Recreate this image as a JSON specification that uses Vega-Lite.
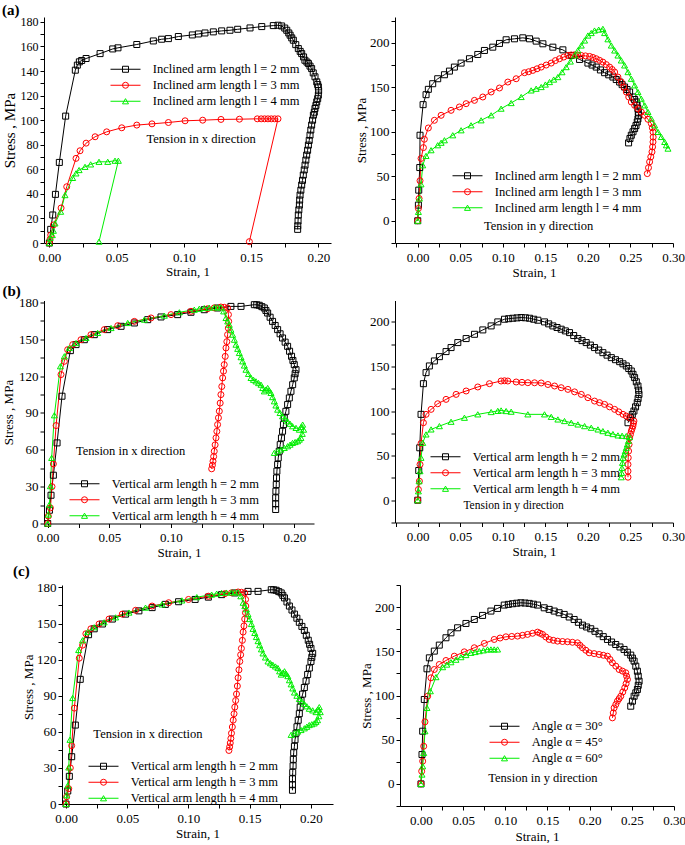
{
"$schema": "https://vega.github.io/schema/vega-lite/v6.json",
"padding": {"left": 2, "top": 2, "right": 0, "bottom": 0},
"config": {
 "font": "Liberation Serif",
 "view": {"stroke": null},
 "axis": {"grid": false, "domainColor": "#000", "tickColor": "#000", "labelColor": "#000", "titleColor": "#000", "labelFont": "Liberation Serif", "titleFont": "Liberation Serif", "titleFontWeight": "normal", "labelFontSize": 13, "titleFontSize": 13, "tickSize": 4, "labelFlush": false, "labelOverlap": false, "labelPadding": 2, "titlePadding": 2},
 "legend": {"labelFont": "Liberation Serif", "labelFontSize": 12.5, "labelColor": "#000", "labelLimit": 0, "symbolStrokeWidth": 1, "symbolFillColor": "transparent", "rowPadding": 3, "padding": 0, "clipHeight": 12.5},
 "title": {"font": "Liberation Serif", "fontSize": 15, "fontWeight": "bold", "color": "#000", "anchor": "start", "offset": -3}
},
"datasets": {
 "A1": [
  {"s":"a","x":0,"y":0},{"s":"a","x":0.001,"y":11.1},{"s":"a","x":0.0025,"y":22.8},{"s":"a","x":0.0045,"y":39.6},{"s":"a","x":0.0074,"y":65.6},{"s":"a","x":0.0121,"y":103.3},{"s":"a","x":0.0193,"y":140.7},{"s":"a","x":0.0208,"y":144.8},{"s":"a","x":0.0223,"y":147.5},{"s":"a","x":0.024,"y":148.6},{"s":"a","x":0.0273,"y":150.2},{"s":"a","x":0.0377,"y":154.2},{"s":"a","x":0.0471,"y":158},{"s":"a","x":0.051,"y":158.9},{"s":"a","x":0.065,"y":161.6},{"s":"a","x":0.0773,"y":164.5},{"s":"a","x":0.0835,"y":165.9},{"s":"a","x":0.0885,"y":166.4},{"s":"a","x":0.0959,"y":168.1},{"s":"a","x":0.1063,"y":169.4},{"s":"a","x":0.1108,"y":170.2},{"s":"a","x":0.1157,"y":171},{"s":"a","x":0.1219,"y":171.9},{"s":"a","x":0.1281,"y":172.7},{"s":"a","x":0.1343,"y":173.2},{"s":"a","x":0.14,"y":174},{"s":"a","x":0.1492,"y":175.1},{"s":"a","x":0.1579,"y":176.2},{"s":"a","x":0.1665,"y":177},{"s":"a","x":0.17,"y":177.3},{"s":"a","x":0.1727,"y":176.7},{"s":"a","x":0.175,"y":175},{"s":"a","x":0.1765,"y":173.2},{"s":"a","x":0.178,"y":171},{"s":"a","x":0.179,"y":169.2},{"s":"a","x":0.1802,"y":167},{"s":"a","x":0.1814,"y":165.1},{"s":"a","x":0.1832,"y":161.5},{"s":"a","x":0.1851,"y":158.3},{"s":"a","x":0.1865,"y":156},{"s":"a","x":0.1876,"y":154.2},{"s":"a","x":0.189,"y":151.5},{"s":"a","x":0.19,"y":148.8},{"s":"a","x":0.1915,"y":147.3},{"s":"a","x":0.1926,"y":146.1},{"s":"a","x":0.1938,"y":144},{"s":"a","x":0.195,"y":142},{"s":"a","x":0.1962,"y":138.5},{"s":"a","x":0.1975,"y":135.3},{"s":"a","x":0.1988,"y":131.2},{"s":"a","x":0.1995,"y":129},{"s":"a","x":0.2,"y":127.1},{"s":"a","x":0.2002,"y":124},{"s":"a","x":0.2,"y":120.4},{"s":"a","x":0.1995,"y":117.5},{"s":"a","x":0.1988,"y":114.9},{"s":"a","x":0.1982,"y":112},{"s":"a","x":0.1975,"y":109.5},{"s":"a","x":0.197,"y":106.5},{"s":"a","x":0.1963,"y":104.1},{"s":"a","x":0.1957,"y":100},{"s":"a","x":0.195,"y":96},{"s":"a","x":0.1944,"y":92},{"s":"a","x":0.1938,"y":87.8},{"s":"a","x":0.1932,"y":83.5},{"s":"a","x":0.1926,"y":79.7},{"s":"a","x":0.192,"y":75.5},{"s":"a","x":0.1913,"y":71.6},{"s":"a","x":0.1907,"y":67.5},{"s":"a","x":0.1901,"y":63.4},{"s":"a","x":0.1895,"y":59.5},{"s":"a","x":0.1888,"y":55.3},{"s":"a","x":0.1882,"y":51},{"s":"a","x":0.1876,"y":47.2},{"s":"a","x":0.187,"y":43},{"s":"a","x":0.1864,"y":39},{"s":"a","x":0.1861,"y":35},{"s":"a","x":0.1859,"y":30.9},{"s":"a","x":0.1855,"y":27},{"s":"a","x":0.1851,"y":22.8},{"s":"a","x":0.1849,"y":18},{"s":"a","x":0.1847,"y":14},{"s":"a","x":0.1846,"y":11.1},
  {"s":"b","x":0,"y":0},{"s":"b","x":0.0005,"y":3},{"s":"b","x":0.001,"y":6.5},{"s":"b","x":0.003,"y":14.7},{"s":"b","x":0.0087,"y":28.5},{"s":"b","x":0.0129,"y":45.8},{"s":"b","x":0.0198,"y":68.9},{"s":"b","x":0.0228,"y":75.1},{"s":"b","x":0.0273,"y":81.3},{"s":"b","x":0.034,"y":86.5},{"s":"b","x":0.0426,"y":90.5},{"s":"b","x":0.0538,"y":93.8},{"s":"b","x":0.065,"y":96},{"s":"b","x":0.0763,"y":97},{"s":"b","x":0.0885,"y":98.1},{"s":"b","x":0.1009,"y":99.5},{"s":"b","x":0.114,"y":100},{"s":"b","x":0.1276,"y":100.6},{"s":"b","x":0.1413,"y":100.8},{"s":"b","x":0.1546,"y":101.1},{"s":"b","x":0.1575,"y":101.1},{"s":"b","x":0.16,"y":101.1},{"s":"b","x":0.1625,"y":101.1},{"s":"b","x":0.165,"y":101.1},{"s":"b","x":0.1675,"y":101.1},{"s":"b","x":0.17,"y":101.1},{"s":"b","x":0.1487,"y":1.1},
  {"s":"c","x":0,"y":0},{"s":"c","x":0.0005,"y":4},{"s":"c","x":0.0022,"y":6.5},{"s":"c","x":0.003,"y":10},{"s":"c","x":0.0042,"y":16},{"s":"c","x":0.0084,"y":25.5},{"s":"c","x":0.0116,"y":39},{"s":"c","x":0.0173,"y":53},{"s":"c","x":0.0198,"y":56.7},{"s":"c","x":0.0221,"y":59.4},{"s":"c","x":0.0265,"y":62},{"s":"c","x":0.0307,"y":64},{"s":"c","x":0.0369,"y":66.1},{"s":"c","x":0.0434,"y":66.1},{"s":"c","x":0.0488,"y":67},{"s":"c","x":0.0513,"y":67},{"s":"c","x":0.0369,"y":1.1}
 ],
 "A2": [
  {"s":"a","x":0,"y":0},{"s":"a","x":0.0008,"y":17.6},{"s":"a","x":0.0012,"y":34.4},{"s":"a","x":0.0024,"y":59.8},{"s":"a","x":0.0027,"y":96.1},{"s":"a","x":0.0063,"y":130.5},{"s":"a","x":0.0098,"y":141.7},{"s":"a","x":0.0125,"y":147.7},{"s":"a","x":0.0176,"y":154},{"s":"a","x":0.0235,"y":159.6},{"s":"a","x":0.0314,"y":164.1},{"s":"a","x":0.0373,"y":168.2},{"s":"a","x":0.0431,"y":172.7},{"s":"a","x":0.051,"y":177.2},{"s":"a","x":0.0608,"y":182.1},{"s":"a","x":0.0706,"y":186.9},{"s":"a","x":0.0784,"y":191.4},{"s":"a","x":0.0882,"y":195.1},{"s":"a","x":0.0961,"y":199.3},{"s":"a","x":0.1039,"y":203.4},{"s":"a","x":0.1137,"y":204.5},{"s":"a","x":0.1235,"y":205.6},{"s":"a","x":0.1314,"y":204.5},{"s":"a","x":0.1392,"y":201.9},{"s":"a","x":0.1471,"y":198.9},{"s":"a","x":0.1588,"y":195.1},{"s":"a","x":0.1706,"y":192.1},{"s":"a","x":0.1804,"y":185.8},{"s":"a","x":0.1902,"y":181.3},{"s":"a","x":0.2,"y":177.2},{"s":"a","x":0.2049,"y":175},{"s":"a","x":0.2098,"y":172.7},{"s":"a","x":0.2147,"y":169.5},{"s":"a","x":0.2196,"y":166.4},{"s":"a","x":0.2245,"y":164},{"s":"a","x":0.2294,"y":161.5},{"s":"a","x":0.2333,"y":158.7},{"s":"a","x":0.2373,"y":155.9},{"s":"a","x":0.2402,"y":153},{"s":"a","x":0.2431,"y":150.3},{"s":"a","x":0.246,"y":147.5},{"s":"a","x":0.249,"y":144.7},{"s":"a","x":0.2529,"y":139.1},{"s":"a","x":0.2549,"y":136.3},{"s":"a","x":0.2569,"y":133.5},{"s":"a","x":0.2578,"y":130},{"s":"a","x":0.2588,"y":126},{"s":"a","x":0.2592,"y":122},{"s":"a","x":0.2596,"y":118.5},{"s":"a","x":0.2588,"y":114.5},{"s":"a","x":0.258,"y":111},{"s":"a","x":0.2565,"y":107},{"s":"a","x":0.2549,"y":103.6},{"s":"a","x":0.253,"y":100},{"s":"a","x":0.251,"y":96.1},{"s":"a","x":0.2494,"y":92.4},{"s":"a","x":0.2478,"y":87.5},
  {"s":"b","x":0,"y":0},{"s":"b","x":0.0008,"y":13.8},{"s":"b","x":0.0016,"y":25},{"s":"b","x":0.0027,"y":45},{"s":"b","x":0.0039,"y":70},{"s":"b","x":0.0067,"y":82.2},{"s":"b","x":0.0078,"y":91.6},{"s":"b","x":0.0125,"y":104.3},{"s":"b","x":0.0196,"y":112.9},{"s":"b","x":0.0275,"y":118.5},{"s":"b","x":0.0392,"y":124.1},{"s":"b","x":0.049,"y":127.9},{"s":"b","x":0.0569,"y":131.6},{"s":"b","x":0.0667,"y":135.3},{"s":"b","x":0.0765,"y":139.1},{"s":"b","x":0.0863,"y":144.7},{"s":"b","x":0.0961,"y":149.2},{"s":"b","x":0.1059,"y":155.9},{"s":"b","x":0.1157,"y":159.6},{"s":"b","x":0.1255,"y":166.4},{"s":"b","x":0.1304,"y":167.5},{"s":"b","x":0.1353,"y":169},{"s":"b","x":0.1402,"y":170.8},{"s":"b","x":0.1451,"y":172.7},{"s":"b","x":0.151,"y":175},{"s":"b","x":0.1569,"y":177.2},{"s":"b","x":0.1618,"y":180},{"s":"b","x":0.1667,"y":182.1},{"s":"b","x":0.1716,"y":184},{"s":"b","x":0.1765,"y":185.8},{"s":"b","x":0.1804,"y":186.3},{"s":"b","x":0.1843,"y":186.5},{"s":"b","x":0.1882,"y":186.2},{"s":"b","x":0.1922,"y":185.8},{"s":"b","x":0.1971,"y":185.3},{"s":"b","x":0.202,"y":184.7},{"s":"b","x":0.2059,"y":183.5},{"s":"b","x":0.2098,"y":182.1},{"s":"b","x":0.2137,"y":180.3},{"s":"b","x":0.2176,"y":178.3},{"s":"b","x":0.2216,"y":175.5},{"s":"b","x":0.2255,"y":172.7},{"s":"b","x":0.2285,"y":170},{"s":"b","x":0.2314,"y":167.1},{"s":"b","x":0.2353,"y":161.5},{"s":"b","x":0.2392,"y":155.9},{"s":"b","x":0.2422,"y":150.3},{"s":"b","x":0.2451,"y":144.7},{"s":"b","x":0.248,"y":139.1},{"s":"b","x":0.251,"y":133.5},{"s":"b","x":0.2549,"y":129.7},{"s":"b","x":0.2588,"y":126},{"s":"b","x":0.2627,"y":122.2},{"s":"b","x":0.2667,"y":118.5},{"s":"b","x":0.2706,"y":114},{"s":"b","x":0.2745,"y":109.2},{"s":"b","x":0.2757,"y":104.5},{"s":"b","x":0.2765,"y":99.8},{"s":"b","x":0.2767,"y":94},{"s":"b","x":0.2765,"y":88.6},{"s":"b","x":0.276,"y":83},{"s":"b","x":0.2753,"y":77.4},{"s":"b","x":0.2739,"y":71.8},{"s":"b","x":0.2725,"y":66.2},{"s":"b","x":0.2712,"y":59.6},{"s":"b","x":0.2698,"y":53},
  {"s":"c","x":0,"y":0},{"s":"c","x":0.0008,"y":10},{"s":"c","x":0.002,"y":25},{"s":"c","x":0.0039,"y":41},{"s":"c","x":0.0059,"y":62.4},{"s":"c","x":0.0098,"y":72.9},{"s":"c","x":0.0157,"y":79.3},{"s":"c","x":0.0235,"y":84.9},{"s":"c","x":0.0275,"y":87.7},{"s":"c","x":0.0314,"y":90.5},{"s":"c","x":0.0412,"y":96.1},{"s":"c","x":0.051,"y":101.7},{"s":"c","x":0.0627,"y":107.3},{"s":"c","x":0.0745,"y":112.9},{"s":"c","x":0.0863,"y":118.5},{"s":"c","x":0.098,"y":126},{"s":"c","x":0.1098,"y":132.3},{"s":"c","x":0.1216,"y":139.1},{"s":"c","x":0.1333,"y":146.5},{"s":"c","x":0.1392,"y":148.4},{"s":"c","x":0.1451,"y":150.3},{"s":"c","x":0.15,"y":153.1},{"s":"c","x":0.1549,"y":155.9},{"s":"c","x":0.1598,"y":158.7},{"s":"c","x":0.1647,"y":161.5},{"s":"c","x":0.1696,"y":167},{"s":"c","x":0.1745,"y":172.7},{"s":"c","x":0.1794,"y":179},{"s":"c","x":0.1843,"y":185.8},{"s":"c","x":0.1882,"y":191.5},{"s":"c","x":0.1922,"y":197},{"s":"c","x":0.1961,"y":202.6},{"s":"c","x":0.2,"y":208.2},{"s":"c","x":0.2039,"y":211},{"s":"c","x":0.2078,"y":213.8},{"s":"c","x":0.2127,"y":214.8},{"s":"c","x":0.2176,"y":215.7},{"s":"c","x":0.2196,"y":211},{"s":"c","x":0.2235,"y":204},{"s":"c","x":0.2275,"y":197},{"s":"c","x":0.2314,"y":191.4},{"s":"c","x":0.2353,"y":185.8},{"s":"c","x":0.2392,"y":180.2},{"s":"c","x":0.2431,"y":174.6},{"s":"c","x":0.2471,"y":167.1},{"s":"c","x":0.251,"y":159.6},{"s":"c","x":0.2549,"y":152.2},{"s":"c","x":0.2588,"y":144.7},{"s":"c","x":0.2627,"y":137.2},{"s":"c","x":0.2667,"y":129.7},{"s":"c","x":0.2706,"y":122.3},{"s":"c","x":0.2745,"y":114.8},{"s":"c","x":0.2784,"y":107.3},{"s":"c","x":0.2824,"y":99.8},{"s":"c","x":0.2863,"y":94.2},{"s":"c","x":0.2902,"y":88.6},{"s":"c","x":0.2922,"y":84.9},{"s":"c","x":0.2941,"y":81.1}
 ],
 "B1": [
  {"s":"a","x":0,"y":0},{"s":"a","x":0.0014,"y":10.8},{"s":"a","x":0.0027,"y":23},{"s":"a","x":0.0046,"y":39.3},{"s":"a","x":0.0076,"y":65.6},{"s":"a","x":0.0116,"y":103.6},{"s":"a","x":0.0184,"y":140.7},{"s":"a","x":0.023,"y":145.6},{"s":"a","x":0.0297,"y":149.6},{"s":"a","x":0.0378,"y":153.7},{"s":"a","x":0.0486,"y":157.8},{"s":"a","x":0.0595,"y":160.5},{"s":"a","x":0.0703,"y":163.2},{"s":"a","x":0.0811,"y":165.9},{"s":"a","x":0.0919,"y":168.1},{"s":"a","x":0.1054,"y":170},{"s":"a","x":0.1162,"y":171.9},{"s":"a","x":0.127,"y":174},{"s":"a","x":0.1378,"y":175.4},{"s":"a","x":0.1486,"y":176.7},{"s":"a","x":0.1568,"y":176.7},{"s":"a","x":0.1676,"y":178.1},{"s":"a","x":0.1696,"y":178},{"s":"a","x":0.1716,"y":177.6},{"s":"a","x":0.1737,"y":176.5},{"s":"a","x":0.1757,"y":175.4},{"s":"a","x":0.177,"y":173.4},{"s":"a","x":0.1784,"y":171.3},{"s":"a","x":0.1804,"y":167.9},{"s":"a","x":0.1824,"y":164.5},{"s":"a","x":0.1845,"y":161.2},{"s":"a","x":0.1865,"y":157.8},{"s":"a","x":0.1885,"y":154.4},{"s":"a","x":0.1905,"y":151},{"s":"a","x":0.1926,"y":147.6},{"s":"a","x":0.1946,"y":144.2},{"s":"a","x":0.1962,"y":140.2},{"s":"a","x":0.1978,"y":136.1},{"s":"a","x":0.1989,"y":132.7},{"s":"a","x":0.2,"y":129.3},{"s":"a","x":0.2014,"y":125.2},{"s":"a","x":0.2007,"y":121.9},{"s":"a","x":0.2,"y":118.5},{"s":"a","x":0.1987,"y":113},{"s":"a","x":0.1973,"y":107.6},{"s":"a","x":0.196,"y":102.2},{"s":"a","x":0.1946,"y":96.8},{"s":"a","x":0.1932,"y":91.3},{"s":"a","x":0.1919,"y":85.9},{"s":"a","x":0.1912,"y":80.5},{"s":"a","x":0.1905,"y":75.1},{"s":"a","x":0.1896,"y":69.6},{"s":"a","x":0.1886,"y":64.2},{"s":"a","x":0.1878,"y":58.8},{"s":"a","x":0.187,"y":53.4},{"s":"a","x":0.1865,"y":48},{"s":"a","x":0.1859,"y":42.6},{"s":"a","x":0.1856,"y":37.1},{"s":"a","x":0.1854,"y":31.7},{"s":"a","x":0.1851,"y":26.3},{"s":"a","x":0.1849,"y":20.9},{"s":"a","x":0.1849,"y":16},{"s":"a","x":0.1849,"y":11.4},
  {"s":"b","x":0,"y":0},{"s":"b","x":0.0005,"y":6},{"s":"b","x":0.0022,"y":12.7},{"s":"b","x":0.0035,"y":30},{"s":"b","x":0.0046,"y":48.5},{"s":"b","x":0.0068,"y":79.7},{"s":"b","x":0.0108,"y":121.2},{"s":"b","x":0.0135,"y":132},{"s":"b","x":0.0162,"y":141.5},{"s":"b","x":0.0203,"y":145.6},{"s":"b","x":0.027,"y":149.6},{"s":"b","x":0.0351,"y":153.7},{"s":"b","x":0.0459,"y":157.8},{"s":"b","x":0.0568,"y":161},{"s":"b","x":0.0703,"y":164.5},{"s":"b","x":0.0838,"y":167.3},{"s":"b","x":0.1,"y":170},{"s":"b","x":0.1162,"y":172.7},{"s":"b","x":0.1297,"y":174.8},{"s":"b","x":0.1351,"y":175.5},{"s":"b","x":0.1405,"y":176.2},{"s":"b","x":0.1432,"y":176},{"s":"b","x":0.1459,"y":175.4},{"s":"b","x":0.1466,"y":170},{"s":"b","x":0.1468,"y":164.5},{"s":"b","x":0.1465,"y":159},{"s":"b","x":0.1459,"y":153.7},{"s":"b","x":0.1453,"y":148},{"s":"b","x":0.1446,"y":142.9},{"s":"b","x":0.144,"y":136},{"s":"b","x":0.1432,"y":129.3},{"s":"b","x":0.1426,"y":124},{"s":"b","x":0.1419,"y":118.5},{"s":"b","x":0.1412,"y":111.5},{"s":"b","x":0.1405,"y":104.9},{"s":"b","x":0.1399,"y":98},{"s":"b","x":0.1392,"y":91.4},{"s":"b","x":0.1385,"y":86},{"s":"b","x":0.1378,"y":80.5},{"s":"b","x":0.1372,"y":75},{"s":"b","x":0.1365,"y":69.7},{"s":"b","x":0.1358,"y":64},{"s":"b","x":0.1351,"y":58.8},{"s":"b","x":0.1346,"y":54.5},{"s":"b","x":0.1341,"y":50.7},{"s":"b","x":0.1336,"y":47.5},{"s":"b","x":0.133,"y":44.5},
  {"s":"c","x":0,"y":0},{"s":"c","x":0.0005,"y":7.3},{"s":"c","x":0.0014,"y":15.4},{"s":"c","x":0.0022,"y":30.4},{"s":"c","x":0.0032,"y":53.4},{"s":"c","x":0.0054,"y":88.1},{"s":"c","x":0.0103,"y":128},{"s":"c","x":0.0135,"y":136.1},{"s":"c","x":0.0176,"y":142.9},{"s":"c","x":0.023,"y":146.9},{"s":"c","x":0.0311,"y":151},{"s":"c","x":0.0405,"y":155.1},{"s":"c","x":0.0514,"y":159.1},{"s":"c","x":0.0649,"y":163.2},{"s":"c","x":0.0784,"y":165.9},{"s":"c","x":0.0946,"y":169.2},{"s":"c","x":0.1068,"y":171.9},{"s":"c","x":0.1189,"y":174},{"s":"c","x":0.123,"y":174.8},{"s":"c","x":0.127,"y":175.4},{"s":"c","x":0.131,"y":175.7},{"s":"c","x":0.1351,"y":175.9},{"s":"c","x":0.1378,"y":175.9},{"s":"c","x":0.1405,"y":175.9},{"s":"c","x":0.1427,"y":172.7},{"s":"c","x":0.1446,"y":167.3},{"s":"c","x":0.146,"y":164.5},{"s":"c","x":0.1473,"y":161.8},{"s":"c","x":0.1486,"y":157.8},{"s":"c","x":0.15,"y":153.7},{"s":"c","x":0.1514,"y":149.6},{"s":"c","x":0.1527,"y":145.6},{"s":"c","x":0.1541,"y":142.2},{"s":"c","x":0.1554,"y":138.8},{"s":"c","x":0.1568,"y":135.4},{"s":"c","x":0.1581,"y":132},{"s":"c","x":0.1595,"y":128.6},{"s":"c","x":0.1608,"y":125.2},{"s":"c","x":0.1628,"y":121.8},{"s":"c","x":0.1649,"y":118.5},{"s":"c","x":0.1669,"y":117},{"s":"c","x":0.1689,"y":115.7},{"s":"c","x":0.171,"y":114.3},{"s":"c","x":0.173,"y":113},{"s":"c","x":0.1744,"y":110.3},{"s":"c","x":0.1757,"y":107.6},{"s":"c","x":0.177,"y":109},{"s":"c","x":0.1784,"y":110.3},{"s":"c","x":0.1797,"y":108.3},{"s":"c","x":0.1811,"y":106.3},{"s":"c","x":0.1824,"y":102.9},{"s":"c","x":0.1838,"y":99.5},{"s":"c","x":0.1851,"y":96.1},{"s":"c","x":0.1865,"y":92.7},{"s":"c","x":0.1885,"y":90},{"s":"c","x":0.1905,"y":87.3},{"s":"c","x":0.1926,"y":85.2},{"s":"c","x":0.1946,"y":83.2},{"s":"c","x":0.1966,"y":81.2},{"s":"c","x":0.1986,"y":79.2},{"s":"c","x":0.2014,"y":77.8},{"s":"c","x":0.2041,"y":76.4},{"s":"c","x":0.2055,"y":78.5},{"s":"c","x":0.2068,"y":80.5},{"s":"c","x":0.2076,"y":76.4},{"s":"c","x":0.2065,"y":73},{"s":"c","x":0.2054,"y":69.7},{"s":"c","x":0.2041,"y":68.3},{"s":"c","x":0.2027,"y":67},{"s":"c","x":0.2007,"y":66.3},{"s":"c","x":0.1986,"y":65.6},{"s":"c","x":0.1966,"y":64.2},{"s":"c","x":0.1946,"y":62.9},{"s":"c","x":0.1919,"y":61.5},{"s":"c","x":0.1892,"y":60.2},{"s":"c","x":0.1865,"y":58.8},{"s":"c","x":0.1838,"y":57.5}
 ],
 "B2": [
  {"s":"a","x":0,"y":0},{"s":"a","x":0.0012,"y":33.3},{"s":"a","x":0.0024,"y":58.8},{"s":"a","x":0.0039,"y":96.3},{"s":"a","x":0.0067,"y":130.7},{"s":"a","x":0.0098,"y":143.1},{"s":"a","x":0.0137,"y":150.6},{"s":"a","x":0.0196,"y":156.2},{"s":"a","x":0.0255,"y":161},{"s":"a","x":0.0333,"y":166.7},{"s":"a","x":0.0392,"y":171.2},{"s":"a","x":0.0471,"y":176.8},{"s":"a","x":0.0569,"y":181.3},{"s":"a","x":0.0667,"y":186.1},{"s":"a","x":0.0765,"y":191},{"s":"a","x":0.0863,"y":195.5},{"s":"a","x":0.0941,"y":200},{"s":"a","x":0.102,"y":203},{"s":"a","x":0.1069,"y":203.6},{"s":"a","x":0.1118,"y":204.1},{"s":"a","x":0.1167,"y":204.5},{"s":"a","x":0.1216,"y":204.9},{"s":"a","x":0.1265,"y":204.6},{"s":"a","x":0.1314,"y":204.1},{"s":"a","x":0.1363,"y":203},{"s":"a","x":0.1412,"y":201.9},{"s":"a","x":0.149,"y":200},{"s":"a","x":0.1539,"y":197.8},{"s":"a","x":0.1588,"y":195.5},{"s":"a","x":0.1637,"y":193.7},{"s":"a","x":0.1686,"y":191.8},{"s":"a","x":0.1735,"y":189.9},{"s":"a","x":0.1784,"y":188},{"s":"a","x":0.1833,"y":184.7},{"s":"a","x":0.1882,"y":181.3},{"s":"a","x":0.1931,"y":179},{"s":"a","x":0.198,"y":176.8},{"s":"a","x":0.2029,"y":174},{"s":"a","x":0.2078,"y":171.2},{"s":"a","x":0.2127,"y":168.4},{"s":"a","x":0.2176,"y":165.5},{"s":"a","x":0.2225,"y":162.7},{"s":"a","x":0.2275,"y":159.9},{"s":"a","x":0.2324,"y":157.6},{"s":"a","x":0.2373,"y":155.4},{"s":"a","x":0.2412,"y":153},{"s":"a","x":0.2451,"y":150.6},{"s":"a","x":0.248,"y":147.7},{"s":"a","x":0.251,"y":144.9},{"s":"a","x":0.253,"y":141.2},{"s":"a","x":0.2549,"y":137.5},{"s":"a","x":0.2569,"y":132.8},{"s":"a","x":0.2588,"y":128.1},{"s":"a","x":0.2596,"y":123.4},{"s":"a","x":0.26,"y":118.7},{"s":"a","x":0.259,"y":114},{"s":"a","x":0.258,"y":109.4},{"s":"a","x":0.256,"y":104.7},{"s":"a","x":0.2541,"y":100},{"s":"a","x":0.2522,"y":96.2},{"s":"a","x":0.2502,"y":92.5},{"s":"a","x":0.2471,"y":86.9},
  {"s":"b","x":0,"y":0},{"s":"b","x":0.0008,"y":12},{"s":"b","x":0.002,"y":21.3},{"s":"b","x":0.0027,"y":40.1},{"s":"b","x":0.0039,"y":63.7},{"s":"b","x":0.0067,"y":86.9},{"s":"b","x":0.0098,"y":96.3},{"s":"b","x":0.0157,"y":101.9},{"s":"b","x":0.0235,"y":108.2},{"s":"b","x":0.0333,"y":113.1},{"s":"b","x":0.0451,"y":118.7},{"s":"b","x":0.0569,"y":122.5},{"s":"b","x":0.0706,"y":127},{"s":"b","x":0.0843,"y":130.7},{"s":"b","x":0.098,"y":133.7},{"s":"b","x":0.102,"y":134},{"s":"b","x":0.1059,"y":133.7},{"s":"b","x":0.1157,"y":132.6},{"s":"b","x":0.1225,"y":132.2},{"s":"b","x":0.1294,"y":131.8},{"s":"b","x":0.1373,"y":131.7},{"s":"b","x":0.1451,"y":131.5},{"s":"b","x":0.153,"y":129.8},{"s":"b","x":0.1608,"y":128.1},{"s":"b","x":0.1686,"y":126.2},{"s":"b","x":0.1765,"y":124.3},{"s":"b","x":0.1843,"y":121.5},{"s":"b","x":0.1922,"y":118.7},{"s":"b","x":0.2,"y":115},{"s":"b","x":0.2078,"y":111.2},{"s":"b","x":0.2137,"y":109.4},{"s":"b","x":0.2196,"y":107.5},{"s":"b","x":0.2255,"y":104.7},{"s":"b","x":0.2314,"y":101.9},{"s":"b","x":0.2363,"y":99.1},{"s":"b","x":0.2412,"y":96.3},{"s":"b","x":0.2451,"y":94.4},{"s":"b","x":0.249,"y":92.5},{"s":"b","x":0.2541,"y":88.8},{"s":"b","x":0.2535,"y":86},{"s":"b","x":0.2529,"y":83.1},{"s":"b","x":0.252,"y":80.3},{"s":"b","x":0.251,"y":77.5},{"s":"b","x":0.25,"y":73.8},{"s":"b","x":0.249,"y":70},{"s":"b","x":0.2484,"y":62.5},{"s":"b","x":0.2478,"y":55.1},{"s":"b","x":0.2474,"y":47.6},{"s":"b","x":0.2471,"y":40.1},{"s":"b","x":0.2471,"y":32.6},{"s":"b","x":0.2471,"y":25.8},
  {"s":"c","x":0,"y":0},{"s":"c","x":0.0008,"y":10},{"s":"c","x":0.0016,"y":21.3},{"s":"c","x":0.0027,"y":32.6},{"s":"c","x":0.0039,"y":47.6},{"s":"c","x":0.0059,"y":64.4},{"s":"c","x":0.0098,"y":73.8},{"s":"c","x":0.0157,"y":79.4},{"s":"c","x":0.0255,"y":83.1},{"s":"c","x":0.0392,"y":88},{"s":"c","x":0.0549,"y":92.5},{"s":"c","x":0.0706,"y":96.3},{"s":"c","x":0.0863,"y":98.9},{"s":"c","x":0.0941,"y":100.2},{"s":"c","x":0.098,"y":100.7},{"s":"c","x":0.1039,"y":100},{"s":"c","x":0.1098,"y":99.3},{"s":"c","x":0.1294,"y":96.3},{"s":"c","x":0.149,"y":96.3},{"s":"c","x":0.1569,"y":93.5},{"s":"c","x":0.1647,"y":90.6},{"s":"c","x":0.1725,"y":88.8},{"s":"c","x":0.1804,"y":86.9},{"s":"c","x":0.1882,"y":85},{"s":"c","x":0.1961,"y":83.1},{"s":"c","x":0.2039,"y":81.3},{"s":"c","x":0.2118,"y":79.4},{"s":"c","x":0.2176,"y":77.5},{"s":"c","x":0.2235,"y":75.7},{"s":"c","x":0.2294,"y":74.2},{"s":"c","x":0.2353,"y":72.7},{"s":"c","x":0.2402,"y":72.3},{"s":"c","x":0.2451,"y":71.9},{"s":"c","x":0.249,"y":70.8},{"s":"c","x":0.2476,"y":66.6},{"s":"c","x":0.2463,"y":62.5},{"s":"c","x":0.2451,"y":58.8},{"s":"c","x":0.2439,"y":55.1},{"s":"c","x":0.2425,"y":51.3},{"s":"c","x":0.2412,"y":47.6},{"s":"c","x":0.2406,"y":42},{"s":"c","x":0.24,"y":36.3},{"s":"c","x":0.2396,"y":30.7},{"s":"c","x":0.2392,"y":25.8}
 ],
 "C2": [
  {"s":"a","x":0,"y":0},{"s":"a","x":0.0012,"y":33.2},{"s":"a","x":0.002,"y":59.6},{"s":"a","x":0.0039,"y":95.5},{"s":"a","x":0.0071,"y":130.2},{"s":"a","x":0.0099,"y":142.6},{"s":"a","x":0.0158,"y":150.2},{"s":"a","x":0.0217,"y":157},{"s":"a","x":0.0296,"y":165.3},{"s":"a","x":0.0355,"y":170.9},{"s":"a","x":0.0434,"y":176.6},{"s":"a","x":0.0533,"y":181.5},{"s":"a","x":0.0632,"y":186},{"s":"a","x":0.073,"y":190.6},{"s":"a","x":0.0829,"y":195.5},{"s":"a","x":0.0908,"y":198.5},{"s":"a","x":0.0987,"y":202.3},{"s":"a","x":0.1036,"y":203.1},{"s":"a","x":0.1086,"y":203.8},{"s":"a","x":0.1135,"y":204.4},{"s":"a","x":0.1184,"y":204.9},{"s":"a","x":0.1234,"y":204.6},{"s":"a","x":0.1283,"y":204.2},{"s":"a","x":0.1332,"y":203.3},{"s":"a","x":0.1382,"y":202.3},{"s":"a","x":0.1461,"y":199.2},{"s":"a","x":0.152,"y":197.4},{"s":"a","x":0.1579,"y":195.5},{"s":"a","x":0.1638,"y":193.6},{"s":"a","x":0.1698,"y":191.7},{"s":"a","x":0.1757,"y":188.8},{"s":"a","x":0.1816,"y":186},{"s":"a","x":0.1866,"y":182.8},{"s":"a","x":0.1915,"y":179.6},{"s":"a","x":0.1964,"y":177.5},{"s":"a","x":0.2013,"y":175.5},{"s":"a","x":0.2063,"y":172.6},{"s":"a","x":0.2112,"y":169.8},{"s":"a","x":0.2161,"y":166.6},{"s":"a","x":0.2211,"y":163.4},{"s":"a","x":0.226,"y":160.5},{"s":"a","x":0.2309,"y":157.7},{"s":"a","x":0.2359,"y":154.9},{"s":"a","x":0.2408,"y":152.1},{"s":"a","x":0.2447,"y":148.9},{"s":"a","x":0.2487,"y":145.7},{"s":"a","x":0.2507,"y":142.3},{"s":"a","x":0.2527,"y":138.9},{"s":"a","x":0.2547,"y":133.2},{"s":"a","x":0.2566,"y":127.5},{"s":"a","x":0.2576,"y":121.9},{"s":"a","x":0.2586,"y":116.2},{"s":"a","x":0.2576,"y":111.5},{"s":"a","x":0.2566,"y":106.8},{"s":"a","x":0.2547,"y":103},{"s":"a","x":0.2527,"y":99.2},{"s":"a","x":0.2507,"y":93.6},{"s":"a","x":0.2487,"y":87.9},
  {"s":"b","x":0,"y":0},{"s":"b","x":0.0008,"y":14.3},{"s":"b","x":0.002,"y":25.7},{"s":"b","x":0.0032,"y":42.6},{"s":"b","x":0.0047,"y":70.2},{"s":"b","x":0.0079,"y":99.2},{"s":"b","x":0.0118,"y":120},{"s":"b","x":0.0158,"y":129.4},{"s":"b","x":0.0217,"y":135.1},{"s":"b","x":0.0296,"y":139.6},{"s":"b","x":0.0395,"y":144.5},{"s":"b","x":0.0513,"y":149.4},{"s":"b","x":0.0632,"y":154},{"s":"b","x":0.0751,"y":158.9},{"s":"b","x":0.0868,"y":163.4},{"s":"b","x":0.0938,"y":165},{"s":"b","x":0.1007,"y":166.4},{"s":"b","x":0.1076,"y":166.8},{"s":"b","x":0.1145,"y":167.2},{"s":"b","x":0.1204,"y":168.1},{"s":"b","x":0.1263,"y":169.1},{"s":"b","x":0.1323,"y":170.4},{"s":"b","x":0.1382,"y":171.7},{"s":"b","x":0.1411,"y":170.4},{"s":"b","x":0.1441,"y":169.1},{"s":"b","x":0.148,"y":166.2},{"s":"b","x":0.152,"y":163.4},{"s":"b","x":0.1569,"y":162.4},{"s":"b","x":0.1619,"y":161.5},{"s":"b","x":0.1678,"y":161.1},{"s":"b","x":0.1737,"y":160.8},{"s":"b","x":0.1796,"y":160.2},{"s":"b","x":0.1855,"y":159.6},{"s":"b","x":0.1885,"y":156.8},{"s":"b","x":0.1915,"y":154},{"s":"b","x":0.1954,"y":151.2},{"s":"b","x":0.1994,"y":148.3},{"s":"b","x":0.2053,"y":147.4},{"s":"b","x":0.2112,"y":146.4},{"s":"b","x":0.2162,"y":145.5},{"s":"b","x":0.2211,"y":144.5},{"s":"b","x":0.2241,"y":140.8},{"s":"b","x":0.227,"y":137},{"s":"b","x":0.231,"y":133.2},{"s":"b","x":0.2349,"y":129.4},{"s":"b","x":0.2389,"y":127.6},{"s":"b","x":0.2428,"y":125.7},{"s":"b","x":0.2438,"y":121.9},{"s":"b","x":0.2448,"y":118.1},{"s":"b","x":0.2432,"y":113.4},{"s":"b","x":0.2416,"y":108.7},{"s":"b","x":0.2393,"y":104},{"s":"b","x":0.2369,"y":99.2},{"s":"b","x":0.2349,"y":96.4},{"s":"b","x":0.2329,"y":93.6},{"s":"b","x":0.231,"y":89.8},{"s":"b","x":0.229,"y":86},{"s":"b","x":0.228,"y":80.3},{"s":"b","x":0.227,"y":74.7},
  {"s":"c","x":0,"y":0},{"s":"c","x":0.0012,"y":10.6},{"s":"c","x":0.002,"y":20},{"s":"c","x":0.0032,"y":35.1},{"s":"c","x":0.0047,"y":59.6},{"s":"c","x":0.0071,"y":86},{"s":"c","x":0.0111,"y":104.9},{"s":"c","x":0.0178,"y":120.8},{"s":"c","x":0.0257,"y":132.1},{"s":"c","x":0.0306,"y":135},{"s":"c","x":0.0355,"y":137.7},{"s":"c","x":0.0415,"y":140.5},{"s":"c","x":0.0474,"y":143.4},{"s":"c","x":0.0533,"y":145.8},{"s":"c","x":0.0592,"y":148.3},{"s":"c","x":0.0642,"y":149.2},{"s":"c","x":0.0691,"y":150.2},{"s":"c","x":0.074,"y":151.1},{"s":"c","x":0.0789,"y":152.1},{"s":"c","x":0.0829,"y":152.1},{"s":"c","x":0.0868,"y":152.1},{"s":"c","x":0.0908,"y":152.1}
 ]
},
"columns": 1,
"spacing": 4.5,
"resolve": {"scale": {"color": "independent", "shape": "independent", "stroke": "independent"}, "legend": {"color": "independent", "shape": "independent", "stroke": "independent"}},
"concat": [
 {
  "title": {"text": "(a)"},
  "spacing": 24,
  "resolve": {"scale": {"color": "independent", "shape": "independent", "stroke": "independent"}, "legend": {"color": "independent", "shape": "independent", "stroke": "independent"}},
  "hconcat": [
   {
    "width": 287, "height": 226,
    "data": {"name": "A1"},
    "layer": [
     {"mark": {"type": "line", "strokeWidth": 1},
      "encoding": {
       "x": {"field": "x", "type": "quantitative", "scale": {"domain": [-0.004, 0.2094], "nice": false, "zero": false}, "axis": {"title": "Strain, 1", "values": [0, 0.025, 0.05, 0.075, 0.1, 0.125, 0.15, 0.175, 0.2], "labelExpr": "round(datum.value*1000)%50==0 ? format(datum.value,'.2f') : ''", "labelFontSize": 13, "labelPadding": 4, "titlePadding": 1}},
       "y": {"field": "y", "type": "quantitative", "scale": {"domain": [0, 184], "nice": false, "zero": false}, "axis": {"title": "Stress , MPa", "values": [0,10,20,30,40,50,60,70,80,90,100,110,120,130,140,150,160,170,180], "labelExpr": "datum.value%20==0 ? format(datum.value,'d') : ''", "labelFontSize": 12, "titleFontSize": 15, "titlePadding": 3}},
       "order": {"value": null},
       "stroke": {"field": "s", "type": "nominal", "scale": {"domain": ["a", "b", "c", "z"], "range": ["#000000", "#ff0000", "#00ee00", "transparent"]}, "legend": {"title": null, "orient": "none", "legendX": 66, "legendY": 46, "symbolType": "stroke", "symbolSize": 900, "labelExpr": "''"}}}},
     {"mark": {"type": "point", "filled": false, "size": 36, "strokeWidth": 1, "opacity": 1},
      "encoding": {
       "x": {"field": "x", "type": "quantitative", "axis": {"title": "Strain, 1", "values": [0, 0.025, 0.05, 0.075, 0.1, 0.125, 0.15, 0.175, 0.2], "labelExpr": "round(datum.value*1000)%50==0 ? format(datum.value,'.2f') : ''", "labelFontSize": 13, "labelPadding": 4, "titlePadding": 1}},
       "y": {"field": "y", "type": "quantitative", "axis": {"title": "Stress , MPa", "values": [0,10,20,30,40,50,60,70,80,90,100,110,120,130,140,150,160,170,180], "labelExpr": "datum.value%20==0 ? format(datum.value,'d') : ''", "labelFontSize": 12, "titleFontSize": 15, "titlePadding": 3}},
       "color": {"field": "s", "type": "nominal", "scale": {"domain": ["a", "b", "c"], "range": ["#000000", "#ff0000", "#00ee00"]}, "legend": {"title": null, "orient": "none", "legendX": 66, "legendY": 46, "symbolSize": 36, "symbolOffset": 9.25, "labelOffset": 21, "labelExpr": "datum.label == 'a' ? 'Inclined arm length l = 2 mm' : datum.label == 'b' ? 'Inclined arm length l = 3 mm' : 'Inclined arm length l = 4 mm'"}},
       "shape": {"field": "s", "type": "nominal", "scale": {"domain": ["a", "b", "c"], "range": ["square", "circle", "triangle-up"]}, "legend": {"title": null, "orient": "none", "legendX": 66, "legendY": 46, "symbolSize": 36, "symbolOffset": 9.25, "labelOffset": 21, "labelExpr": "datum.label == 'a' ? 'Inclined arm length l = 2 mm' : datum.label == 'b' ? 'Inclined arm length l = 3 mm' : 'Inclined arm length l = 4 mm'"}}
      }},
     {"data": {"values": [{"t": "Tension in x direction"}]},
      "mark": {"type": "text", "font": "Liberation Serif", "fontSize": 12.5, "color": "#000"},
      "encoding": {
       "x": {"datum": 0.1128, "type": "quantitative", "axis": {"title": "Strain, 1", "values": [0, 0.025, 0.05, 0.075, 0.1, 0.125, 0.15, 0.175, 0.2], "labelExpr": "round(datum.value*1000)%50==0 ? format(datum.value,'.2f') : ''", "labelFontSize": 13, "labelPadding": 4, "titlePadding": 1}},
       "y": {"datum": 84.7, "type": "quantitative", "axis": {"title": "Stress , MPa", "values": [0,10,20,30,40,50,60,70,80,90,100,110,120,130,140,150,160,170,180], "labelExpr": "datum.value%20==0 ? format(datum.value,'d') : ''", "labelFontSize": 12, "titleFontSize": 15, "titlePadding": 3}},
       "text": {"field": "t"}}}
    ]
   },
   {
    "width": 278, "height": 226,
    "data": {"name": "A2"},
    "layer": [
     {"mark": {"type": "line", "strokeWidth": 1},
      "encoding": {
       "x": {"field": "x", "type": "quantitative", "scale": {"domain": [-0.0267, 0.3], "nice": false, "zero": false}, "axis": {"title": "Strain, 1", "values": [-0.025, 0, 0.025, 0.05, 0.075, 0.1, 0.125, 0.15, 0.175, 0.2, 0.225, 0.25, 0.275, 0.3], "labelExpr": "round(datum.value*1000)%50==0 ? format(datum.value,'.2f') : ''", "labelPadding": 4, "titlePadding": 2}},
       "y": {"field": "y", "type": "quantitative", "scale": {"domain": [-25, 229], "nice": false, "zero": false}, "axis": {"title": "Stress , MPa", "values": [-25,0,25,50,75,100,125,150,175,200,225], "labelExpr": "datum.value%50==0 ? format(datum.value,'d') : ''", "titlePadding": 1}},
       "order": {"value": null},
       "stroke": {"field": "s", "type": "nominal", "scale": {"domain": ["a", "b", "c", "z"], "range": ["#000000", "#ff0000", "#00ee00", "transparent"]}, "legend": {"title": null, "orient": "none", "legendX": 57, "legendY": 152.5, "symbolType": "stroke", "symbolSize": 900, "labelExpr": "''"}}}},
     {"mark": {"type": "point", "filled": false, "size": 36, "strokeWidth": 1, "opacity": 1},
      "encoding": {
       "x": {"field": "x", "type": "quantitative", "axis": {"title": "Strain, 1", "values": [-0.025, 0, 0.025, 0.05, 0.075, 0.1, 0.125, 0.15, 0.175, 0.2, 0.225, 0.25, 0.275, 0.3], "labelExpr": "round(datum.value*1000)%50==0 ? format(datum.value,'.2f') : ''", "labelPadding": 4, "titlePadding": 2}},
       "y": {"field": "y", "type": "quantitative", "axis": {"title": "Stress , MPa", "values": [-25,0,25,50,75,100,125,150,175,200,225], "labelExpr": "datum.value%50==0 ? format(datum.value,'d') : ''", "titlePadding": 1}},
       "color": {"field": "s", "type": "nominal", "scale": {"domain": ["a", "b", "c"], "range": ["#000000", "#ff0000", "#00ee00"]}, "legend": {"title": null, "orient": "none", "legendX": 57, "legendY": 152.5, "symbolSize": 36, "symbolOffset": 9.25, "labelOffset": 21, "labelExpr": "datum.label == 'a' ? 'Inclined arm length l = 2 mm' : datum.label == 'b' ? 'Inclined arm length l = 3 mm' : 'Inclined arm length l = 4 mm'"}},
       "shape": {"field": "s", "type": "nominal", "scale": {"domain": ["a", "b", "c"], "range": ["square", "circle", "triangle-up"]}, "legend": {"title": null, "orient": "none", "legendX": 57, "legendY": 152.5, "symbolSize": 36, "symbolOffset": 9.25, "labelOffset": 21, "labelExpr": "datum.label == 'a' ? 'Inclined arm length l = 2 mm' : datum.label == 'b' ? 'Inclined arm length l = 3 mm' : 'Inclined arm length l = 4 mm'"}}
      }},
     {"data": {"values": [{"t": "Tension in y direction"}]},
      "mark": {"type": "text", "font": "Liberation Serif", "fontSize": 12.5, "color": "#000"},
      "encoding": {
       "x": {"datum": 0.142, "type": "quantitative", "axis": {"title": "Strain, 1", "values": [-0.025, 0, 0.025, 0.05, 0.075, 0.1, 0.125, 0.15, 0.175, 0.2, 0.225, 0.25, 0.275, 0.3], "labelExpr": "round(datum.value*1000)%50==0 ? format(datum.value,'.2f') : ''", "labelPadding": 4, "titlePadding": 2}},
       "y": {"datum": -5.6, "type": "quantitative", "axis": {"title": "Stress , MPa", "values": [-25,0,25,50,75,100,125,150,175,200,225], "labelExpr": "datum.value%50==0 ? format(datum.value,'d') : ''", "titlePadding": 1}},
       "text": {"field": "t"}}}
    ]
   }
  ]
 },
 {
  "title": {"text": "(b)"},
  "spacing": 55,
  "resolve": {"scale": {"color": "independent", "shape": "independent", "stroke": "independent"}, "legend": {"color": "independent", "shape": "independent", "stroke": "independent"}},
  "hconcat": [
   {
    "width": 270, "height": 223,
    "data": {"name": "B1"},
    "layer": [
     {"mark": {"type": "line", "strokeWidth": 1},
      "encoding": {
       "x": {"field": "x", "type": "quantitative", "scale": {"domain": [-0.003, 0.216], "nice": false, "zero": false}, "axis": {"title": "Strain, 1", "values": [0, 0.025, 0.05, 0.075, 0.1, 0.125, 0.15, 0.175, 0.2], "labelExpr": "round(datum.value*1000)%50==0 ? format(datum.value,'.2f') : ''", "labelPadding": 4, "titlePadding": 2}},
       "y": {"field": "y", "type": "quantitative", "scale": {"domain": [0, 181.5], "nice": false, "zero": false}, "axis": {"title": "Stress , MPa", "values": [0,15,30,45,60,75,90,105,120,135,150,165,180], "labelExpr": "datum.value%30==0 ? format(datum.value,'d') : ''", "titlePadding": 3}},
       "order": {"value": null},
       "stroke": {"field": "s", "type": "nominal", "scale": {"domain": ["a", "b", "c", "z"], "range": ["#000000", "#ff0000", "#00ee00", "transparent"]}, "legend": {"title": null, "orient": "none", "legendX": 25, "legendY": 177, "symbolType": "stroke", "symbolSize": 900, "labelExpr": "''"}}}},
     {"mark": {"type": "point", "filled": false, "size": 36, "strokeWidth": 1, "opacity": 1},
      "encoding": {
       "x": {"field": "x", "type": "quantitative", "axis": {"title": "Strain, 1", "values": [0, 0.025, 0.05, 0.075, 0.1, 0.125, 0.15, 0.175, 0.2], "labelExpr": "round(datum.value*1000)%50==0 ? format(datum.value,'.2f') : ''", "labelPadding": 4, "titlePadding": 2}},
       "y": {"field": "y", "type": "quantitative", "axis": {"title": "Stress , MPa", "values": [0,15,30,45,60,75,90,105,120,135,150,165,180], "labelExpr": "datum.value%30==0 ? format(datum.value,'d') : ''", "titlePadding": 3}},
       "color": {"field": "s", "type": "nominal", "scale": {"domain": ["a", "b", "c"], "range": ["#000000", "#ff0000", "#00ee00"]}, "legend": {"title": null, "orient": "none", "legendX": 25, "legendY": 177, "symbolSize": 36, "symbolOffset": 9.25, "labelOffset": 21, "labelExpr": "datum.label == 'a' ? 'Vertical arm length h = 2 mm' : datum.label == 'b' ? 'Vertical arm length h = 3 mm' : 'Vertical arm length h = 4 mm'"}},
       "shape": {"field": "s", "type": "nominal", "scale": {"domain": ["a", "b", "c"], "range": ["square", "circle", "triangle-up"]}, "legend": {"title": null, "orient": "none", "legendX": 25, "legendY": 177, "symbolSize": 36, "symbolOffset": 9.25, "labelOffset": 21, "labelExpr": "datum.label == 'a' ? 'Vertical arm length h = 2 mm' : datum.label == 'b' ? 'Vertical arm length h = 3 mm' : 'Vertical arm length h = 4 mm'"}}
      }},
     {"data": {"values": [{"t": "Tension in x direction"}]},
      "mark": {"type": "text", "font": "Liberation Serif", "fontSize": 12.5, "color": "#000"},
      "encoding": {
       "x": {"datum": 0.0672, "type": "quantitative", "axis": {"title": "Strain, 1", "values": [0, 0.025, 0.05, 0.075, 0.1, 0.125, 0.15, 0.175, 0.2], "labelExpr": "round(datum.value*1000)%50==0 ? format(datum.value,'.2f') : ''", "labelPadding": 4, "titlePadding": 2}},
       "y": {"datum": 59.1, "type": "quantitative", "axis": {"title": "Stress , MPa", "values": [0,15,30,45,60,75,90,105,120,135,150,165,180], "labelExpr": "datum.value%30==0 ? format(datum.value,'d') : ''", "titlePadding": 3}},
       "text": {"field": "t"}}}
    ]
   },
   {
    "width": 278, "height": 222,
    "data": {"name": "B2"},
    "layer": [
     {"mark": {"type": "line", "strokeWidth": 1},
      "encoding": {
       "x": {"field": "x", "type": "quantitative", "scale": {"domain": [-0.0267, 0.3], "nice": false, "zero": false}, "axis": {"title": "Strain, 1", "values": [-0.025, 0, 0.025, 0.05, 0.075, 0.1, 0.125, 0.15, 0.175, 0.2, 0.225, 0.25, 0.275, 0.3], "labelExpr": "round(datum.value*1000)%50==0 ? format(datum.value,'.2f') : ''", "labelPadding": 4, "titlePadding": 2}},
       "y": {"field": "y", "type": "quantitative", "scale": {"domain": [-25, 224], "nice": false, "zero": false}, "axis": {"title": null, "values": [-25,0,25,50,75,100,125,150,175,200], "labelExpr": "datum.value%50==0 ? format(datum.value,'d') : ''"}},
       "order": {"value": null},
       "stroke": {"field": "s", "type": "nominal", "scale": {"domain": ["a", "b", "c", "z"], "range": ["#000000", "#ff0000", "#00ee00", "transparent"]}, "legend": {"title": null, "orient": "none", "legendX": 35, "legendY": 150, "symbolType": "stroke", "symbolSize": 900, "labelExpr": "''"}}}},
     {"mark": {"type": "point", "filled": false, "size": 36, "strokeWidth": 1, "opacity": 1},
      "encoding": {
       "x": {"field": "x", "type": "quantitative", "axis": {"title": "Strain, 1", "values": [-0.025, 0, 0.025, 0.05, 0.075, 0.1, 0.125, 0.15, 0.175, 0.2, 0.225, 0.25, 0.275, 0.3], "labelExpr": "round(datum.value*1000)%50==0 ? format(datum.value,'.2f') : ''", "labelPadding": 4, "titlePadding": 2}},
       "y": {"field": "y", "type": "quantitative", "axis": {"title": null, "values": [-25,0,25,50,75,100,125,150,175,200], "labelExpr": "datum.value%50==0 ? format(datum.value,'d') : ''"}},
       "color": {"field": "s", "type": "nominal", "scale": {"domain": ["a", "b", "c"], "range": ["#000000", "#ff0000", "#00ee00"]}, "legend": {"title": null, "orient": "none", "legendX": 35, "legendY": 150, "symbolSize": 36, "symbolOffset": 9.25, "labelOffset": 21, "labelExpr": "datum.label == 'a' ? 'Vertical arm length h = 2 mm' : datum.label == 'b' ? 'Vertical arm length h = 3 mm' : 'Vertical arm length h = 4 mm'"}},
       "shape": {"field": "s", "type": "nominal", "scale": {"domain": ["a", "b", "c"], "range": ["square", "circle", "triangle-up"]}, "legend": {"title": null, "orient": "none", "legendX": 35, "legendY": 150, "symbolSize": 36, "symbolOffset": 9.25, "labelOffset": 21, "labelExpr": "datum.label == 'a' ? 'Vertical arm length h = 2 mm' : datum.label == 'b' ? 'Vertical arm length h = 3 mm' : 'Vertical arm length h = 4 mm'"}}
      }},
     {"data": {"values": [{"t": "Tension in y direction"}]},
      "mark": {"type": "text", "font": "Liberation Serif", "fontSize": 11.5, "color": "#000"},
      "encoding": {
       "x": {"datum": 0.1127, "type": "quantitative", "axis": {"title": "Strain, 1", "values": [-0.025, 0, 0.025, 0.05, 0.075, 0.1, 0.125, 0.15, 0.175, 0.2, 0.225, 0.25, 0.275, 0.3], "labelExpr": "round(datum.value*1000)%50==0 ? format(datum.value,'.2f') : ''", "labelPadding": 4, "titlePadding": 2}},
       "y": {"datum": -6.4, "type": "quantitative", "axis": {"title": null, "values": [-25,0,25,50,75,100,125,150,175,200], "labelExpr": "datum.value%50==0 ? format(datum.value,'d') : ''"}},
       "text": {"field": "t"}}}
    ]
   }
  ]
 },
 {
  "title": {"text": "(c)", "dx": -10, "offset": 0},
  "spacing": 27,
  "resolve": {"scale": {"color": "independent", "shape": "independent", "stroke": "independent"}, "legend": {"color": "independent", "shape": "independent", "stroke": "independent"}},
  "hconcat": [
   {
    "width": 289, "height": 219,
    "data": {"name": "B1"},
    "layer": [
     {"mark": {"type": "line", "strokeWidth": 1},
      "encoding": {
       "x": {"field": "x", "type": "quantitative", "scale": {"domain": [-0.0033, 0.218], "nice": false, "zero": false, "range": [18, 289]}, "axis": {"title": "Strain, 1", "values": [0, 0.025, 0.05, 0.075, 0.1, 0.125, 0.15, 0.175, 0.2], "labelExpr": "round(datum.value*1000)%50==0 ? format(datum.value,'.2f') : ''", "labelPadding": 4, "titlePadding": 2}},
       "y": {"field": "y", "type": "quantitative", "scale": {"domain": [0, 182], "nice": false, "zero": false}, "axis": {"title": null, "offset": -18, "values": [0,15,30,45,60,75,90,105,120,135,150,165,180], "labelExpr": "datum.value%30==0 ? format(datum.value,'d') : ''"}},
       "order": {"value": null},
       "stroke": {"field": "s", "type": "nominal", "scale": {"domain": ["a", "b", "c", "z"], "range": ["#000000", "#ff0000", "#00ee00", "transparent"]}, "legend": {"title": null, "orient": "none", "legendX": 44, "legendY": 175, "symbolType": "stroke", "symbolSize": 900, "labelExpr": "''"}}}},
     {"mark": {"type": "point", "filled": false, "size": 36, "strokeWidth": 1, "opacity": 1},
      "encoding": {
       "x": {"field": "x", "type": "quantitative", "axis": {"title": "Strain, 1", "values": [0, 0.025, 0.05, 0.075, 0.1, 0.125, 0.15, 0.175, 0.2], "labelExpr": "round(datum.value*1000)%50==0 ? format(datum.value,'.2f') : ''", "labelPadding": 4, "titlePadding": 2}},
       "y": {"field": "y", "type": "quantitative", "axis": {"title": null, "offset": -18, "values": [0,15,30,45,60,75,90,105,120,135,150,165,180], "labelExpr": "datum.value%30==0 ? format(datum.value,'d') : ''"}},
       "color": {"field": "s", "type": "nominal", "scale": {"domain": ["a", "b", "c"], "range": ["#000000", "#ff0000", "#00ee00"]}, "legend": {"title": null, "orient": "none", "legendX": 44, "legendY": 175, "symbolSize": 36, "symbolOffset": 9.25, "labelOffset": 21, "labelExpr": "datum.label == 'a' ? 'Vertical arm length h = 2 mm' : datum.label == 'b' ? 'Vertical arm length h = 3 mm' : 'Vertical arm length h = 4 mm'"}},
       "shape": {"field": "s", "type": "nominal", "scale": {"domain": ["a", "b", "c"], "range": ["square", "circle", "triangle-up"]}, "legend": {"title": null, "orient": "none", "legendX": 44, "legendY": 175, "symbolSize": 36, "symbolOffset": 9.25, "labelOffset": 21, "labelExpr": "datum.label == 'a' ? 'Vertical arm length h = 2 mm' : datum.label == 'b' ? 'Vertical arm length h = 3 mm' : 'Vertical arm length h = 4 mm'"}}
      }},
     {"data": {"values": [{"t": "Tension in x direction"}]},
      "mark": {"type": "text", "font": "Liberation Serif", "fontSize": 12.5, "color": "#000"},
      "encoding": {
       "x": {"datum": 0.0669, "type": "quantitative", "axis": {"title": "Strain, 1", "values": [0, 0.025, 0.05, 0.075, 0.1, 0.125, 0.15, 0.175, 0.2], "labelExpr": "round(datum.value*1000)%50==0 ? format(datum.value,'.2f') : ''", "labelPadding": 4, "titlePadding": 2}},
       "y": {"datum": 57.9, "type": "quantitative", "axis": {"title": null, "offset": -18, "values": [0,15,30,45,60,75,90,105,120,135,150,165,180], "labelExpr": "datum.value%30==0 ? format(datum.value,'d') : ''"}},
       "text": {"field": "t"}}},
     {"data": {"values": [{"t": "Stress , MPa"}]},
      "mark": {"type": "text", "font": "Liberation Serif", "fontSize": 13, "color": "#000", "angle": 270, "align": "center", "baseline": "middle", "clip": false},
      "encoding": {
       "x": {"datum": -0.0302, "type": "quantitative", "axis": {"title": "Strain, 1", "values": [0, 0.025, 0.05, 0.075, 0.1, 0.125, 0.15, 0.175, 0.2], "labelExpr": "round(datum.value*1000)%50==0 ? format(datum.value,'.2f') : ''", "labelPadding": 4, "titlePadding": 2}},
       "y": {"datum": 97, "type": "quantitative", "axis": {"title": null, "offset": -18, "values": [0,15,30,45,60,75,90,105,120,135,150,165,180], "labelExpr": "datum.value%30==0 ? format(datum.value,'d') : ''"}},
       "text": {"field": "t"}}}
    ]
   },
   {
    "width": 274, "height": 221,
    "data": {"name": "C2"},
    "layer": [
     {"mark": {"type": "line", "strokeWidth": 1},
      "encoding": {
       "x": {"field": "x", "type": "quantitative", "scale": {"domain": [-0.0249, 0.3], "nice": false, "zero": false}, "axis": {"title": "Strain, 1", "values": [0, 0.025, 0.05, 0.075, 0.1, 0.125, 0.15, 0.175, 0.2, 0.225, 0.25, 0.275, 0.3], "labelExpr": "round(datum.value*1000)%50==0 ? format(datum.value,'.2f') : ''", "labelPadding": 4, "titlePadding": 3}},
       "y": {"field": "y", "type": "quantitative", "scale": {"domain": [-25, 225], "nice": false, "zero": false}, "axis": {"title": "Stress , MPa", "values": [-25,0,25,50,75,100,125,150,175,200,225], "labelExpr": "datum.value%50==0 ? format(datum.value,'d') : ''", "titlePadding": 1}},
       "order": {"value": null},
       "stroke": {"field": "s", "type": "nominal", "scale": {"domain": ["a", "b", "c", "z"], "range": ["#000000", "#ff0000", "#00ee00", "transparent"]}, "legend": {"title": null, "orient": "none", "legendX": 89, "legendY": 135, "symbolType": "stroke", "symbolSize": 900, "labelExpr": "''"}}}},
     {"mark": {"type": "point", "filled": false, "size": 36, "strokeWidth": 1, "opacity": 1},
      "encoding": {
       "x": {"field": "x", "type": "quantitative", "axis": {"title": "Strain, 1", "values": [0, 0.025, 0.05, 0.075, 0.1, 0.125, 0.15, 0.175, 0.2, 0.225, 0.25, 0.275, 0.3], "labelExpr": "round(datum.value*1000)%50==0 ? format(datum.value,'.2f') : ''", "labelPadding": 4, "titlePadding": 3}},
       "y": {"field": "y", "type": "quantitative", "axis": {"title": "Stress , MPa", "values": [-25,0,25,50,75,100,125,150,175,200,225], "labelExpr": "datum.value%50==0 ? format(datum.value,'d') : ''", "titlePadding": 1}},
       "color": {"field": "s", "type": "nominal", "scale": {"domain": ["a", "b", "c"], "range": ["#000000", "#ff0000", "#00ee00"]}, "legend": {"title": null, "orient": "none", "legendX": 89, "legendY": 135, "symbolSize": 36, "symbolOffset": 9.25, "labelOffset": 21, "labelExpr": "datum.label == 'a' ? 'Angle α = 30°' : datum.label == 'b' ? 'Angle α = 45°' : 'Angle α = 60°'"}},
       "shape": {"field": "s", "type": "nominal", "scale": {"domain": ["a", "b", "c"], "range": ["square", "circle", "triangle-up"]}, "legend": {"title": null, "orient": "none", "legendX": 89, "legendY": 135, "symbolSize": 36, "symbolOffset": 9.25, "labelOffset": 21, "labelExpr": "datum.label == 'a' ? 'Angle α = 30°' : datum.label == 'b' ? 'Angle α = 45°' : 'Angle α = 60°'"}}
      }},
     {"data": {"values": [{"t": "Tension in y direction"}]},
      "mark": {"type": "text", "font": "Liberation Serif", "fontSize": 12.5, "color": "#000"},
      "encoding": {
       "x": {"datum": 0.1445, "type": "quantitative", "axis": {"title": "Strain, 1", "values": [0, 0.025, 0.05, 0.075, 0.1, 0.125, 0.15, 0.175, 0.2, 0.225, 0.25, 0.275, 0.3], "labelExpr": "round(datum.value*1000)%50==0 ? format(datum.value,'.2f') : ''", "labelPadding": 4, "titlePadding": 3}},
       "y": {"datum": 6.8, "type": "quantitative", "axis": {"title": "Stress , MPa", "values": [-25,0,25,50,75,100,125,150,175,200,225], "labelExpr": "datum.value%50==0 ? format(datum.value,'d') : ''", "titlePadding": 1}},
       "text": {"field": "t"}}}
    ]
   }
  ]
 }
]
}
